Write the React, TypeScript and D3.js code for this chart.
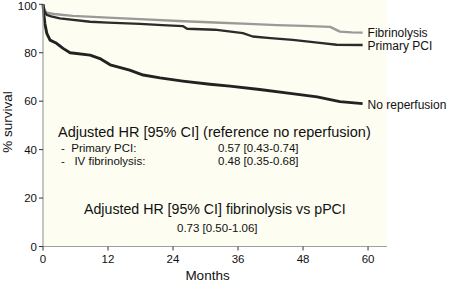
import React from "react";
import * as d3 from "d3";

const fibMonths = [0, 0.3, 0.7, 2, 5.5, 12, 17.9, 25, 31.7, 38, 43.2, 48, 53, 54.8, 57, 59];
const fibSurv = [100, 97.5, 96.5, 96, 95.2, 94.5, 93.9, 93.1, 92.5, 91.9, 91.4, 91.1, 90.7, 88.7, 88.4, 88.3];

const pciMonths = [0, 0.3, 0.7, 1.5, 3.1, 8.7, 12, 17.9, 22, 25.8, 26.6, 31.7, 36.9, 38.7, 42, 46.1, 51.1, 54.2, 59];
const pciSurv = [100, 97, 95.6, 95, 94.2, 92.8, 92.4, 91.9, 91.4, 91, 89.9, 89.5, 88.1, 86.7, 86, 85.3, 84.1, 83.3, 83.2];

const noMonths = [0, 0.15, 0.35, 0.7, 1.3, 2.5, 3.7, 5, 8.7, 10.5, 12.4, 16, 18.5, 21.6, 25.8, 30.8, 34.5, 40, 45.6, 50.6, 54.8, 59];
const noSurv = [100, 96, 92, 88, 85.2, 83.9, 81.8, 80, 79, 77.6, 75, 72.8, 70.8, 69.6, 68.3, 67, 66.2, 64.8, 63.2, 61.8, 59.8, 59];

const xTicks = [0, 12, 24, 36, 48, 60];
const yTicks = [0, 20, 40, 60, 80, 100];

const seriesNames = ["Fibrinolysis", "Primary PCI", "No reperfusion"];

const FONT = "Liberation Sans, Arial, Helvetica, sans-serif";

export default function App() {
  const x = d3.scaleLinear().domain([0, 63.5]).range([43, 387]);
  const y = d3.scaleLinear().domain([0, 100]).range([246.5, 4.3]);
  const line = d3
    .line<[number, number]>()
    .x((d) => x(d[0]))
    .y((d) => y(d[1]))
    .curve(d3.curveLinear);

  const fib = fibMonths.map((m, i) => [m, fibSurv[i]] as [number, number]);
  const pci = pciMonths.map((m, i) => [m, pciSurv[i]] as [number, number]);
  const nor = noMonths.map((m, i) => [m, noSurv[i]] as [number, number]);

  const series = [
    { name: seriesNames[0], data: fib, color: "#9a9a9a", w: 2.4 },
    { name: seriesNames[1], data: pci, color: "#2b2b2b", w: 2.3 },
    { name: seriesNames[2], data: nor, color: "#222222", w: 2.9 },
  ];
  const labelDy = [0, 1, 1];

  return (
    <svg
      width={450}
      height={282}
      style={{ position: "absolute", left: 0, top: 0, background: "#ffffff" }}
      fontFamily={FONT}
    >
      <rect x={x(0)} y={0} width={x(63.5) - x(0)} height={y(0)} fill="#fdfdf1" />
      {series.map((s) => (
        <path key={s.name} d={line(s.data) || ""} fill="none" stroke={s.color} strokeWidth={s.w} strokeLinejoin="round" />
      ))}
      {series.map((s, i) => {
        const last = s.data[s.data.length - 1];
        return (
          <text key={s.name + "l"} x={x(last[0]) + 5} y={y(last[1]) + 4 + labelDy[i]} fontSize={12} fill="#111">
            {s.name}
          </text>
        );
      })}
      {/* axes */}
      <line x1={x(0)} x2={x(0)} y1={y(100)} y2={y(0)} stroke="#a0a0a0" strokeWidth={1.2} />
      <line x1={x(0)} x2={x(63.5)} y1={y(0)} y2={y(0)} stroke="#a0a0a0" strokeWidth={1.2} />
      {yTicks.map((t) => (
        <g key={"y" + t}>
          <line x1={x(0) - 4} x2={x(0)} y1={y(t)} y2={y(t)} stroke="#333" strokeWidth={1} />
          <text x={x(0) - 6} y={Math.max(y(t) + 4, 10)} fontSize={11.5} textAnchor="end" fill="#111">
            {t}
          </text>
        </g>
      ))}
      {xTicks.map((t) => (
        <g key={"x" + t}>
          <line x1={x(t)} x2={x(t)} y1={y(0)} y2={y(0) + 4} stroke="#333" strokeWidth={1} />
          <text x={x(t)} y={y(0) + 16} fontSize={11.5} textAnchor="middle" fill="#111">
            {t}
          </text>
        </g>
      ))}
      <text x={(x(0) + x(60)) / 2 + 2} y={280} fontSize={13.5} textAnchor="middle" fill="#111">
        Months
      </text>
      <text transform="translate(12,122) rotate(-90)" fontSize={13.5} textAnchor="middle" fill="#111">
        % survival
      </text>
      {/* annotations */}
      <text x={58} y={137} fontSize={14.5} fill="#111">
        Adjusted HR [95% CI] (reference no reperfusion)
      </text>
      <text x={61} y={151.5} fontSize={11.5} fill="#111" style={{ whiteSpace: "pre" }}>
        {"-  Primary PCI:"}
      </text>
      <text x={218} y={151.5} fontSize={11.5} fill="#111">
        0.57 [0.43-0.74]
      </text>
      <text x={61} y={164.5} fontSize={11.5} fill="#111" style={{ whiteSpace: "pre" }}>
        {"-   IV fibrinolysis:"}
      </text>
      <text x={218} y={164.5} fontSize={11.5} fill="#111">
        0.48 [0.35-0.68]
      </text>
      <text x={84} y={214} fontSize={14.2} fill="#111">
        Adjusted HR [95% CI] fibrinolysis vs pPCI
      </text>
      <text x={177} y={232} fontSize={11.5} fill="#111">
        0.73 [0.50-1.06]
      </text>
    </svg>
  );
}
